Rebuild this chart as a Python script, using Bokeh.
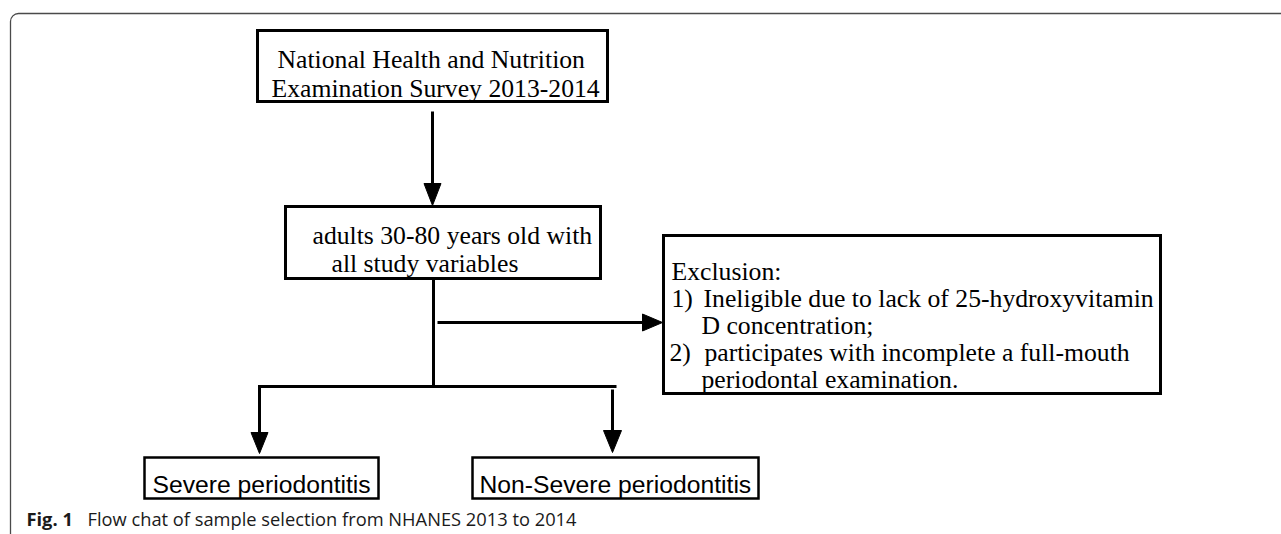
from bokeh.plotting import figure
from bokeh.models import Range1d, BoxAnnotation
from bokeh.core.properties import value
from bokeh.embed import file_html
from bokeh.resources import INLINE

# ---- text content of the flow chart ----
top_box_lines = ["National Health and Nutrition", "Examination Survey 2013-2014"]
cohort_box_lines = ["adults 30-80 years old with", "all study variables"]
exclusion_title = "Exclusion:"
exclusion_markers = ["1)", "2)"]
exclusion_items = [
    ["Ineligible due to lack of 25-hydroxyvitamin", "D concentration;"],
    ["participates with incomplete a full-mouth", "periodontal examination."],
]
outcome_labels = ["Severe periodontitis", "Non-Severe periodontitis"]
caption_label = "Fig. 1"
caption_text = "Flow chat of sample selection from NHANES 2013 to 2014"

# ---- layout (page pixel coordinates, y downwards) ----
W, H = 1281, 534
SERIF = value("Liberation Serif")
SANS = value("Liberation Sans")
SERIF_SIZE = "25.7px"
SANS_SIZE = "24.7px"
CAP_SIZE = "18.3px"

boxes = {
    "top":      dict(l=257, r=607, t=30, b=101, w=3),
    "cohort":   dict(l=285, r=600, t=206, b=278, w=3),
    "excl":     dict(l=663, r=1160, t=235, b=393, w=3),
    "severe":   dict(l=144, r=378, t=457, b=498, w=2.5),
    "nonsev":   dict(l=472, r=758, t=457, b=498, w=2.5),
}

p = figure(width=W, height=H, x_range=Range1d(0, W), y_range=Range1d(H, 0),
           output_backend="svg", toolbar_location=None, min_border=0,
           x_axis_location=None, y_axis_location=None)
p.grid.visible = False
p.outline_line_color = None
p.background_fill_color = "white"
p.border_fill_color = "white"

# outer rounded frame
p.add_layout(BoxAnnotation(left=10, right=1400, top=13, bottom=800, border_radius=8,
                           fill_alpha=0, line_color="#4a4a4a", line_width=1.3,
                           line_alpha=1))

# boxes
for b in boxes.values():
    p.quad(left=[b["l"]], right=[b["r"]], top=[b["t"]], bottom=[b["b"]],
           fill_color="white", line_color="black", line_width=b["w"], line_join="miter")

# connectors: (x0, y0, x1, y1) shaft then arrow tip, with head length / width
arrows = [
    (432, 111, 432, 205, 22, 17),
    (437, 322, 662, 322, 20, 17),
    (259, 386, 259, 453, 21, 17),
    (612, 389, 612, 452, 22, 18),
]
plain_lines = [
    ([433, 433], [278, 387]),
    ([257.5, 616], [386, 386]),
]

xs, ys, hx, hy = [], [], [], []
for x0, y0, x1, y1, L, Wd in arrows:
    if x0 == x1:  # vertical downward
        xs.append([x0, x1]); ys.append([y0, y1 - L + 1])
        hx.append([x1 - Wd / 2, x1 + Wd / 2, x1]); hy.append([y1 - L, y1 - L, y1])
    else:  # horizontal rightward
        xs.append([x0, x1 - L + 1]); ys.append([y0, y1])
        hx.append([x1 - L, x1 - L, x1]); hy.append([y1 - Wd / 2, y1 + Wd / 2, y1])
for lx, ly in plain_lines:
    xs.append(lx); ys.append(ly)

p.multi_line(xs=xs, ys=ys, line_color="black", line_width=3)
p.patches(xs=hx, ys=hy, fill_color="black", line_color="black", line_width=1)

def put(x, y, txt, font=SERIF, size=SERIF_SIZE, style="normal", color="black"):
    p.text(x=[x], y=[y], text=[txt], text_font=font, text_font_size=size,
           text_font_style=style, text_align="left", text_baseline="alphabetic",
           text_color=color)

# top box
put(277, 59, top_box_lines[0])
put(271, 88, top_box_lines[1])
# cohort box
put(312, 235, cohort_box_lines[0])
put(331, 263, cohort_box_lines[1])
# exclusion box
put(671, 271, exclusion_title)
put(671, 298, exclusion_markers[0])
put(703, 298, exclusion_items[0][0])
put(701, 325, exclusion_items[0][1])
put(669, 352, exclusion_markers[1])
put(704, 352, exclusion_items[1][0])
put(701, 379, exclusion_items[1][1])
# outcome boxes
put(152, 484, outcome_labels[0], font=SANS, size=SANS_SIZE)
put(479, 484, outcome_labels[1], font=SANS, size=SANS_SIZE)
# caption
put(26, 518, caption_label, font=value("Open Sans"), size=CAP_SIZE, style="bold", color="#1a1a1a")
put(87, 518, caption_text, font=value("Open Sans"), size=CAP_SIZE, color="#1a1a1a")

open("out.html", "w").write(file_html(p, INLINE))
